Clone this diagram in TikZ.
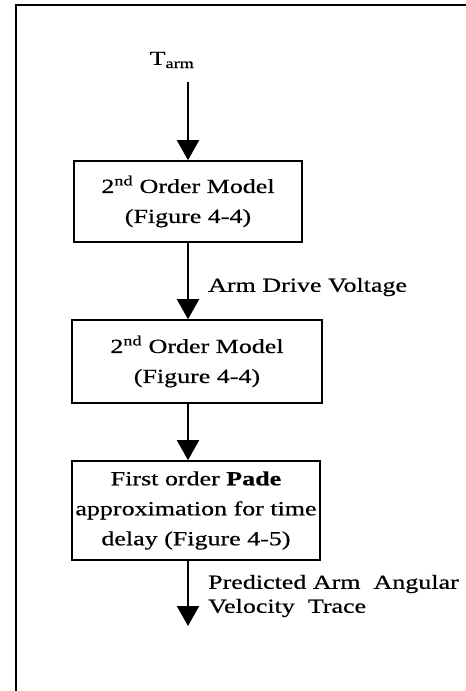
\documentclass[tikz,border=0pt]{standalone}
\usepackage{fontspec}
\setmainfont{Liberation Serif}[FakeStretch=1.3,FakeBold=0.6]
\usetikzlibrary{arrows.meta}
\begin{document}
\begin{tikzpicture}[x=1pt,y=-1pt,
  box/.style={draw,line width=1.6pt,inner sep=0pt,align=center,font=\fontsize{20}{30}\selectfont},
  lbl/.style={font=\fontsize{20}{24}\selectfont,inner sep=0pt,align=left},
  arr/.style={line width=2pt,-{Triangle[width=22pt,length=20pt]}}]
\useasboundingbox (0,0) rectangle (466,691);
\draw[line width=2pt] (16,691) -- (16,5) -- (466,5);
\node[lbl] (tarm) at (172,60) {T\textsubscript{arm}};
\node[box,minimum width=228pt,minimum height=81pt] (m1) at (188,201.5) {2\textsuperscript{nd} Order Model\\(Figure 4-4)};
\node[box,minimum width=250pt,minimum height=83pt] (m2) at (197,361.5) {2\textsuperscript{nd} Order Model\\(Figure 4-4)};
\node[box,minimum width=248pt,minimum height=99pt] (m3) at (196,510.5) {First order \textbf{Pade}\\approximation for time\\delay (Figure 4-5)};
\coordinate (out) at (188,626);
\node[lbl,anchor=west] (v) at (208,287) {Arm Drive Voltage};
\node[lbl,anchor=west] (p) at (208,596) {Predicted Arm\ \ Angular\\Velocity\ \ Trace};
\draw[arr] ([yshift=-14pt]tarm.south -| m1.north) -- (m1.north);
\draw[arr] (m1.south) -- (m1.south |- m2.north);
\draw[arr] (m1.south |- m2.south) -- (m1.south |- m3.north);
\draw[arr] (m1.south |- m3.south) -- (out);
\end{tikzpicture}
\end{document}
